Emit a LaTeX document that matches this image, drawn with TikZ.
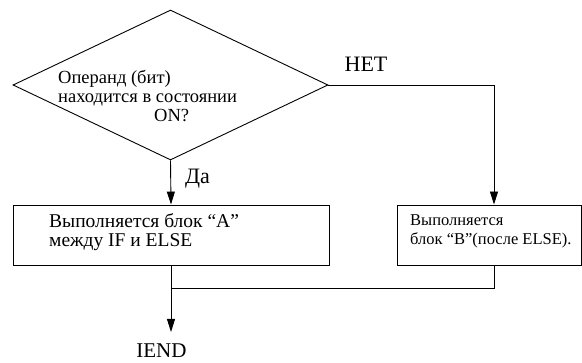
\documentclass[tikz,border=0pt]{standalone}
\usepackage{fontspec}
\setmainfont{Liberation Serif}
\usetikzlibrary{arrows.meta,positioning,shapes.geometric}
\tikzset{
  romb/.style={diamond,draw,line width=0.9pt,minimum width=315pt,
    minimum height=150pt,inner sep=0pt},
  bloco/.style={rectangle,draw,line width=0.9pt,minimum height=60pt,inner sep=0pt},
  texto/.style={align=left,font=\fontsize{18.5}{19}\selectfont,inner sep=0pt},
  rotulo/.style={font=\fontsize{22}{24}\selectfont,inner sep=0pt},
  seta/.style={-{Triangle[length=13pt,width=8pt]},line width=0.9pt},
  linha/.style={line width=0.9pt}
}

\begin{document}
\begin{tikzpicture}[x=1pt,y=-1pt]
  \useasboundingbox (0,0) rectangle (582,363);
  \node[romb] (cond) at (170.5,85) {};
  \node[texto,anchor=west] (condtxt) at (58,96)
    {Операнд (бит)\\находится в состоянии\\\hspace*{96pt}ON?};
  \node[rotulo,anchor=base west] (da) at (185,184) {Да};
  \node[rotulo,anchor=base] (net) at (366,72) {НЕТ};
  \node[bloco,minimum width=316pt] (blocoA) at (171,235) {};
  \node[texto,anchor=west,font=\fontsize{19.5}{19}\selectfont] (txtA) at (49,232)
    {Выполняется блок “A”\\между IF и ELSE};
  \node[bloco,minimum width=184pt] (blocoB) at (489,235) {};
  \node[texto,anchor=west,font=\fontsize{16.5}{19}\selectfont] (txtB) at (410,231.5)
    {Выполняется\\блок “B”(после ELSE).};
  \coordinate (juncao) at (171,288);
  \coordinate (fim) at (171,332);
  \node[rotulo,anchor=base,font=\fontsize{21}{24}\selectfont] (iend) at (161.5,358) {IEND};
  \draw[seta] (cond.south) -- (blocoA.north);
  \draw[seta] (cond.east) -| ([xshift=5pt]blocoB.north);
  \draw[linha] ([xshift=5pt]blocoB.south) |- (juncao);
  \draw[seta] (blocoA.south) -- (fim);
\end{tikzpicture}
\end{document}
